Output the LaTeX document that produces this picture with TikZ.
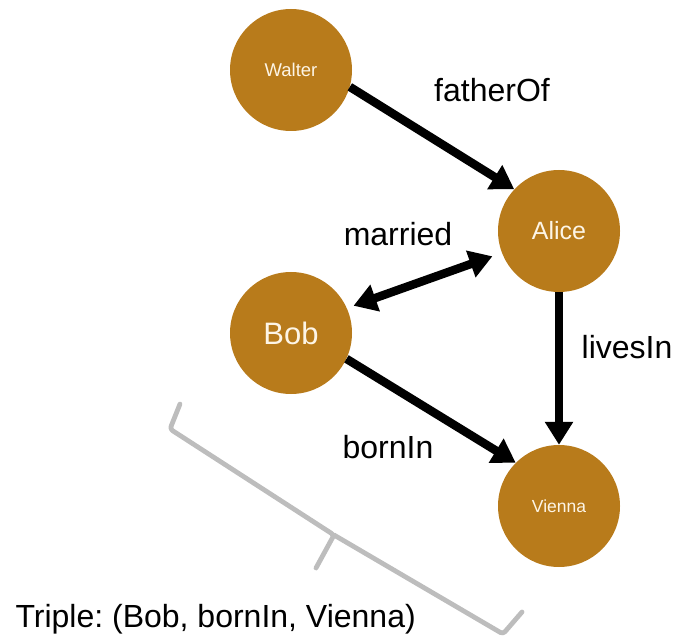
\documentclass[tikz,border=0pt]{standalone}
\usepackage{fontspec}
\setmainfont{Liberation Sans}
\usepackage{tikz}
\usetikzlibrary{arrows.meta}
\definecolor{entGold}{HTML}{B87B1B}
\definecolor{entText}{HTML}{FDF5E6}
\definecolor{braceGray}{HTML}{BDBDBD}
\frenchspacing

\begin{document}
\begin{tikzpicture}[x=1pt, y=-1pt,
    ent/.style={circle, fill=entGold, text=entText, minimum size=122pt, inner sep=0pt},
    rel/.style={-{Triangle[length=23pt, width=27pt]}, line width=8.5pt},
    lbl/.style={font=\fontsize{32}{36}\selectfont, anchor=base},
    bracket/.style={draw=braceGray, line width=4.8pt, rounded corners=3pt,
                    line cap=round, line join=round},
]
\useasboundingbox (0,0) rectangle (677,644);

% entities
\node[ent, font=\fontsize{18.5}{20}\selectfont] (walter) at (291,70)  {Walter};
\node[ent, font=\fontsize{25}{28}\selectfont]   (alice)  at (559,231) {Alice};
\node[ent, font=\fontsize{31}{34}\selectfont]   (bob)    at (291,333) {Bob};
\node[ent, font=\fontsize{17.5}{20}\selectfont] (vienna) at (559,506) {Vienna};

% relations
\draw[rel] (walter.-16) -- (alice.137);
\draw[rel, {Triangle[length=23pt, width=27pt]}-{Triangle[length=23pt, width=27pt]},
      shorten <=7pt, shorten >=10pt] (bob.24) -- (alice.201);
\draw[rel] (alice.south) -- (vienna.north);
\draw[rel] (bob.-25) -- (vienna.135);

\node[lbl] (lfather)  at (492,102) {fatherOf};
\node[lbl] (lmarried) at (398,246) {married};
\node[lbl] (llives)   at (627,358) {livesIn};
\node[lbl] (lborn)    at (388,458) {bornIn};

% triple brace
\draw[bracket] (180,404) -- (170,429) -- (334,535) -- (316,568);
\draw[bracket] (334,535) -- (503,634) -- (522,612);
\node[lbl, anchor=base west] (triple) at (12,627) {Triple: (Bob, bornIn, Vienna)};
\end{tikzpicture}
\end{document}
